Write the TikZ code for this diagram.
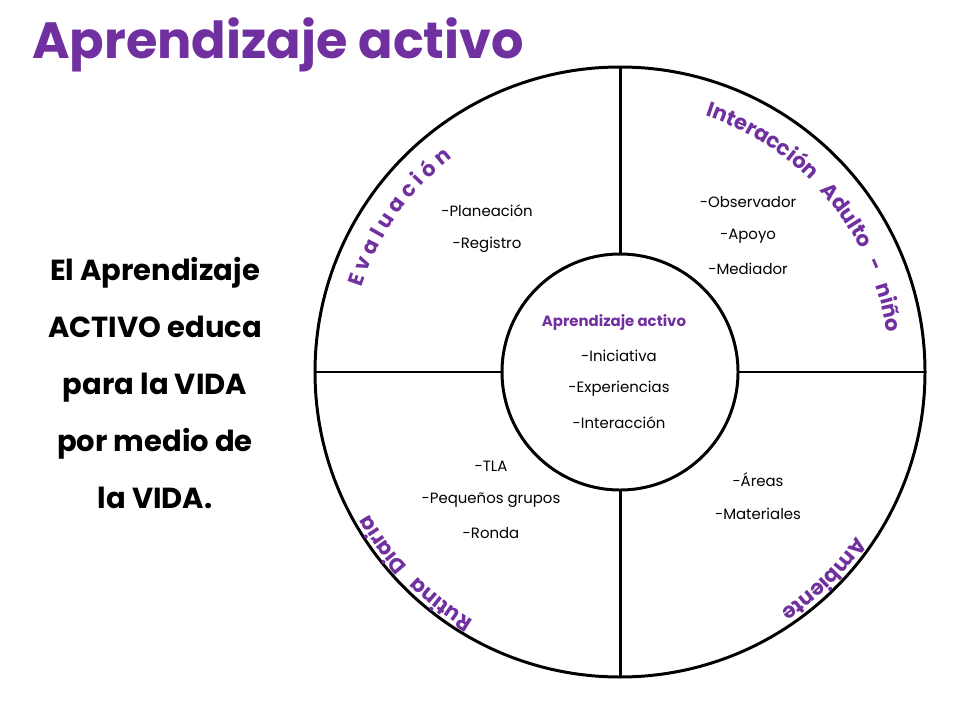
\documentclass[tikz,border=0pt]{standalone}
\usepackage{fontspec}
\setmainfont{Poppins}
\usetikzlibrary{decorations.text}
\definecolor{purp}{HTML}{7030A0}
\begin{document}
\begin{tikzpicture}[x=0.02cm,y=-0.02cm,
  ln/.style={line width=1.7pt},
  small/.style={font=\fontsize{8.5}{10}\selectfont},
  curv/.style={postaction={decorate,decoration={text along path,text align=center,
     text={|\fontsize{12}{14}\bfseries\color{purp}|#1}}}}]
\useasboundingbox (0,0) rectangle (960,720);
\coordinate (c) at (620,372);
\node[font=\fontsize{29}{31}\bfseries\selectfont,text=purp,anchor=west] (title) at (26,45) {Aprendizaje activo};
\node[font=\fontsize{16.5}{32.5}\bfseries\selectfont,align=center] (left) at (155,383)
 {El Aprendizaje\\ACTIVO educa\\para la VIDA\\por medio de\\la VIDA.};
\draw[ln] (c) circle[radius=305];
\draw[ln] (c) circle[radius=118];
\draw[ln] (620,67) -- (620,254);
\draw[ln] (620,490) -- (620,677);
\draw[ln] (315,372) -- (502,372);
\draw[ln] (738,372) -- (925,372);
\path[curv={E v a l u a c i ó n}] (c) ++(-163:272) arc[start angle=-163,end angle=-127,radius=272];
\path[curv={Interacción {~} Adulto {~} - {~} niño}] (c) ++(-74:270) arc[start angle=-74,end angle=-6,radius=270];
\path[curv={Rutina {~} Diaria}] (c) ++(113:288) arc[start angle=113,end angle=158,radius=288];
\path[curv={Ambiente}] (c) ++(28:288) arc[start angle=28,end angle=63,radius=288];
\node[small] (p1) at (487,211) {-Planeación};
\node[small] (p2) at (487,245) {-Registro};
\node[small] (o1) at (748,202) {-Observador};
\node[small] (o2) at (748,236) {-Apoyo};
\node[small] (o3) at (748,269) {-Mediador};
\node[small,text=purp,font=\fontsize{8.5}{10}\bfseries\selectfont] (a0) at (614,323) {Aprendizaje activo};
\node[small] (a1) at (619,356) {-Iniciativa};
\node[small] (a2) at (619,389) {-Experiencias};
\node[small] (a3) at (619,423) {-Interacción};
\node[small] (t1) at (491,466) {-TLA};
\node[small] (t2) at (491,500) {-Pequeños grupos};
\node[small] (t3) at (491,533) {-Ronda};
\node[small] (m1) at (758,480) {-Áreas};
\node[small] (m2) at (758,514) {-Materiales};
\end{tikzpicture}
\end{document}
